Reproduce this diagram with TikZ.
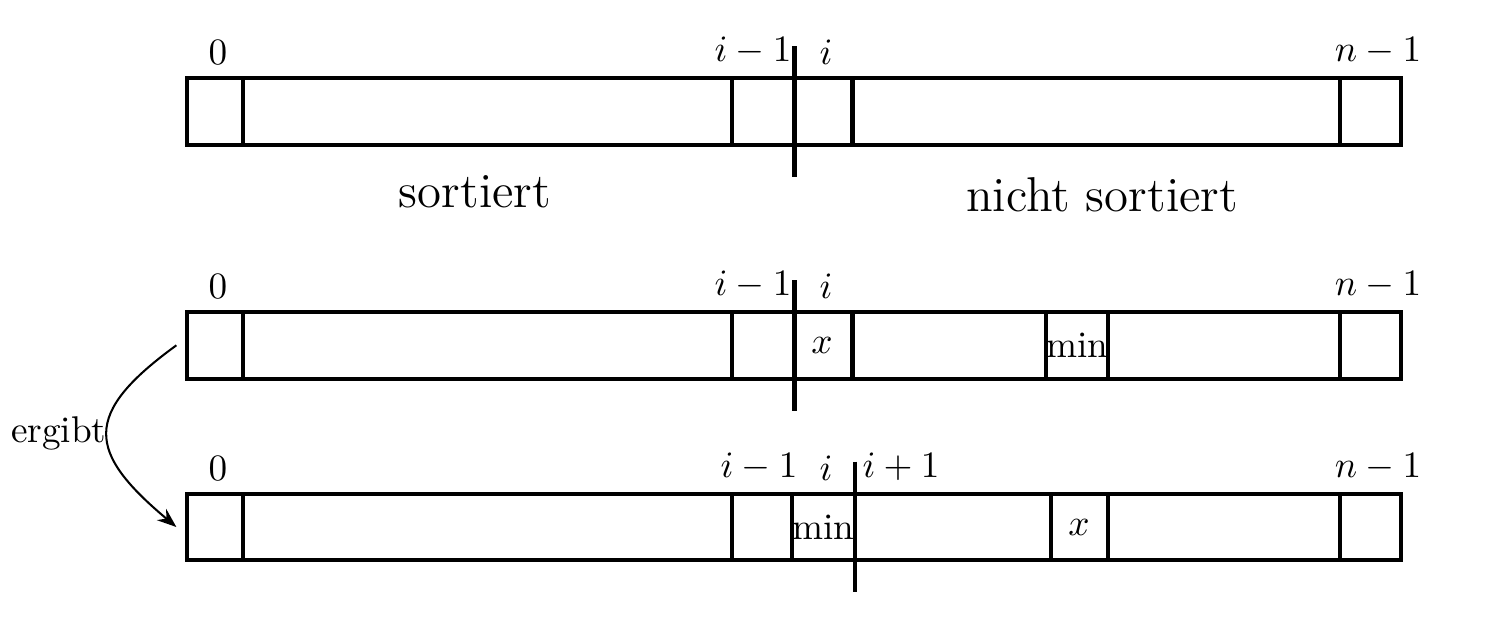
\documentclass[11pt,tikz,border=0pt]{standalone}
\usetikzlibrary{arrows.meta, positioning, calc}

\begin{document}
\begin{tikzpicture}[
    % Stildefinitionen
    array_row/.style={
        draw, very thick, minimum width=12.554cm, minimum height=0.69cm, inner sep=0pt, outer sep=0pt
    },
    cell_wall/.style={
        very thick
    },
    split_line/.style={
        very thick
    },
    index_label/.style={
        above
    },
    part_label/.style={
        font=\Large, anchor=base
    },
    flow/.style={
        ->, >=Stealth, semithick
    }
]
    \useasboundingbox (0,0) rectangle (15.491,6.639);

    % --- 1. AUSGANGSLAGE (oben) ---
    \node[array_row] (row1) at (8.211, 5.487) {};
    \draw[cell_wall] (2.513,0 |- row1.north) -- (2.513,0 |- row1.south)
        (7.570,0 |- row1.north) -- (7.570,0 |- row1.south)
        (8.816,0 |- row1.north) -- (8.816,0 |- row1.south)
        (13.857,0 |- row1.north) -- (13.857,0 |- row1.south);
    \draw[split_line] (8.216,0 |- row1.north) ++(0,0.33) -- ++(0,-1.35);

    \node[index_label] (r1_first) at (2.254,0 |- row1.north) {$0$};
    \node[index_label] (r1_prev) at (7.787,0 |- row1.north) {$i-1$};
    \node[index_label] (r1_cur) at (8.542,0 |- row1.north) {$i$};
    \node[index_label] (r1_last) at (14.250,0 |- row1.north) {$n-1$};

    % Bereiche links / rechts der Grenze
    \node[part_label] (sorted) at (4.912, 4.498) {sortiert};
    \node[part_label] (unsorted) at (11.396, 4.447) {nicht sortiert};

    % --- 2. MINIMUM GEFUNDEN (Mitte) ---
    \node[array_row] (row2) at (8.211, 3.068) {};
    \draw[cell_wall] (2.513,0 |- row2.north) -- (2.513,0 |- row2.south)
        (7.570,0 |- row2.north) -- (7.570,0 |- row2.south)
        (8.816,0 |- row2.north) -- (8.816,0 |- row2.south)
        (10.817,0 |- row2.north) -- (10.817,0 |- row2.south)
        (11.458,0 |- row2.north) -- (11.458,0 |- row2.south)
        (13.857,0 |- row2.north) -- (13.857,0 |- row2.south);
    \draw[split_line] (8.216,0 |- row2.north) ++(0,0.33) -- ++(0,-1.35);

    \node[index_label] (r2_first) at (2.254,0 |- row2.north) {$0$};
    \node[index_label] (r2_prev) at (7.787,0 |- row2.north) {$i-1$};
    \node[index_label] (r2_cur) at (8.542,0 |- row2.north) {$i$};
    \node[index_label] (r2_last) at (14.250,0 |- row2.north) {$n-1$};

    \node (r2_x) at (8.501,0 |- row2) {$x$};
    \node (r2_min) at (11.138,0 |- row2) {min};

    % --- 3. NACH DEM TAUSCH (unten) ---
    \node[array_row] (row3) at (8.211, 1.189) {};
    \draw[cell_wall] (2.513,0 |- row3.north) -- (2.513,0 |- row3.south)
        (7.570,0 |- row3.north) -- (7.570,0 |- row3.south)
        (8.190,0 |- row3.north) -- (8.190,0 |- row3.south)
        (10.869,0 |- row3.north) -- (10.869,0 |- row3.south)
        (11.458,0 |- row3.north) -- (11.458,0 |- row3.south)
        (13.857,0 |- row3.north) -- (13.857,0 |- row3.south);
    \draw[split_line] (8.842,0 |- row3.north) ++(0,0.33) -- ++(0,-1.35);

    \node[index_label] (r3_first) at (2.254,0 |- row3.north) {$0$};
    \node[index_label] (r3_prev) at (7.849,0 |- row3.north) {$i-1$};
    \node[index_label] (r3_cur) at (8.542,0 |- row3.north) {$i$};
    \node[index_label] (r3_next) at (9.317,0 |- row3.north) {$i+1$};
    \node[index_label] (r3_last) at (14.250,0 |- row3.north) {$n-1$};

    \node (r3_min) at (8.511,0 |- row3) {min};
    \node (r3_x) at (11.158,0 |- row3) {$x$};

    % Uebergang
    \draw[flow] ([xshift=-0.11cm]row2.west) to[out=216, in=140, looseness=1.65]
        node[pos=0.5, left, inner sep=0pt] (step_label) {ergibt} ([xshift=-0.11cm]row3.west);

\end{tikzpicture}
\end{document}
